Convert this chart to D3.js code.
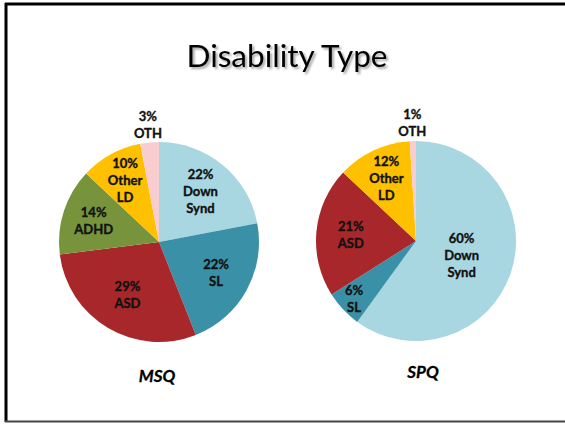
<!DOCTYPE html>
<html>
<head>
<meta charset="utf-8">
<script src="https://cdn.jsdelivr.net/npm/d3@7"></script>
<style>
  body { margin: 0; background: #fff; }
  svg { display: block; font-family: Lato, "Open Sans", sans-serif; }
</style>
</head>
<body>
<svg width="565" height="424"></svg>
<script>
const categories = ['Down Synd', 'SL', 'ASD', 'ADHD', 'Other LD', 'OTH'];
const shortLabels = [['Down', 'Synd'], ['SL'], ['ASD'], ['ADHD'], ['Other', 'LD'], ['OTH']];
const msqValues = [22, 22, 29, 14, 10, 3];
const spqValues = [60, 6, 21, 0, 12, 1];
const chartNames = ['MSQ', 'SPQ'];
const colors = ['#a8d7e2', '#3a91a7', '#a8272a', '#77933c', '#ffc000', '#f9cdd0'];

const svg = d3.select('svg');

// frame
svg.append('line').attr('x1', 5).attr('x2', 565).attr('y1', 4).attr('y2', 4)
    .attr('stroke', '#000').attr('stroke-width', 3);
svg.append('line').attr('x1', 6).attr('x2', 6).attr('y1', 3).attr('y2', 422)
    .attr('stroke', '#000').attr('stroke-width', 3);
svg.append('line').attr('x1', 5).attr('x2', 565).attr('y1', 421.5).attr('y2', 421.5)
    .attr('stroke', '#444').attr('stroke-width', 2);

// title with soft shadow
const defs = svg.append('defs');
const f = defs.append('filter').attr('id', 'shadow').attr('x', '-10%').attr('y', '-30%')
    .attr('width', '130%').attr('height', '170%');
f.append('feDropShadow').attr('dx', 2).attr('dy', 2).attr('stdDeviation', 1.2)
    .attr('flood-color', '#000').attr('flood-opacity', 0.35);

svg.append('text')
    .attr('x', 287).attr('y', 67)
    .attr('text-anchor', 'middle')
    .attr('font-size', 31.5)
    .attr('fill', '#000')
    .attr('filter', 'url(#shadow)')
    .text('Disability Type');

const R = 100;
const pie = d3.pie().sort(null).value(d => d.value);
const arc = d3.arc().innerRadius(0).outerRadius(R);

// labels sit closer to the centre on big slices, outside on tiny ones
const labelRadius = frac => {
    if (frac < 0.05) return R * 1.18;
    if (frac < 0.08) return R * 0.85;
    return R * (0.75 - 0.45 * frac);
};

const drawPie = (values, name, cx, cy, titleX, titleY) => {
    const data = categories.map((c, i) => ({ cat: c, value: values[i], i }));
    const g = svg.append('g').attr('transform', `translate(${cx},${cy})`);
    const arcs = pie(data).filter(d => d.data.value > 0);

    g.selectAll('path')
        .data(arcs)
        .enter()
        .append('path')
        .attr('d', arc)
        .attr('fill', d => colors[d.data.i]);

    const labels = g.selectAll('g.lbl')
        .data(arcs)
        .enter()
        .append('g')
        .attr('class', 'lbl')
        .attr('transform', d => {
            const r = labelRadius(d.data.value / 100);
            const [x, y] = d3.arc().innerRadius(r).outerRadius(r).centroid(d);
            return `translate(${x},${y})`;
        });

    labels.each(function (d) {
        const lines = [d.data.value + '%'].concat(shortLabels[d.data.i]);
        d3.select(this).selectAll('text')
            .data(lines)
            .enter()
            .append('text')
            .attr('text-anchor', 'middle')
            .attr('dy', '0.35em')
            .attr('y', (t, k) => (k - (lines.length - 1) / 2) * 17)
            .attr('font-size', 13)
            .attr('font-weight', 'bold')
            .attr('fill', '#111')
            .attr('stroke', '#111')
            .attr('stroke-width', 0.35)
            .text(t => t);
    });

    svg.append('text')
        .attr('x', titleX).attr('y', titleY)
        .attr('dy', '0.35em')
        .attr('text-anchor', 'middle')
        .attr('font-size', 17)
        .attr('font-weight', 'bold')
        .attr('font-style', 'italic')
        .attr('stroke', '#000')
        .attr('stroke-width', 0.3)
        .text(name);
};

drawPie(msqValues, chartNames[0], 159, 242, 157, 376);
drawPie(spqValues, chartNames[1], 416, 241, 423, 372);
</script>
</body>
</html>
